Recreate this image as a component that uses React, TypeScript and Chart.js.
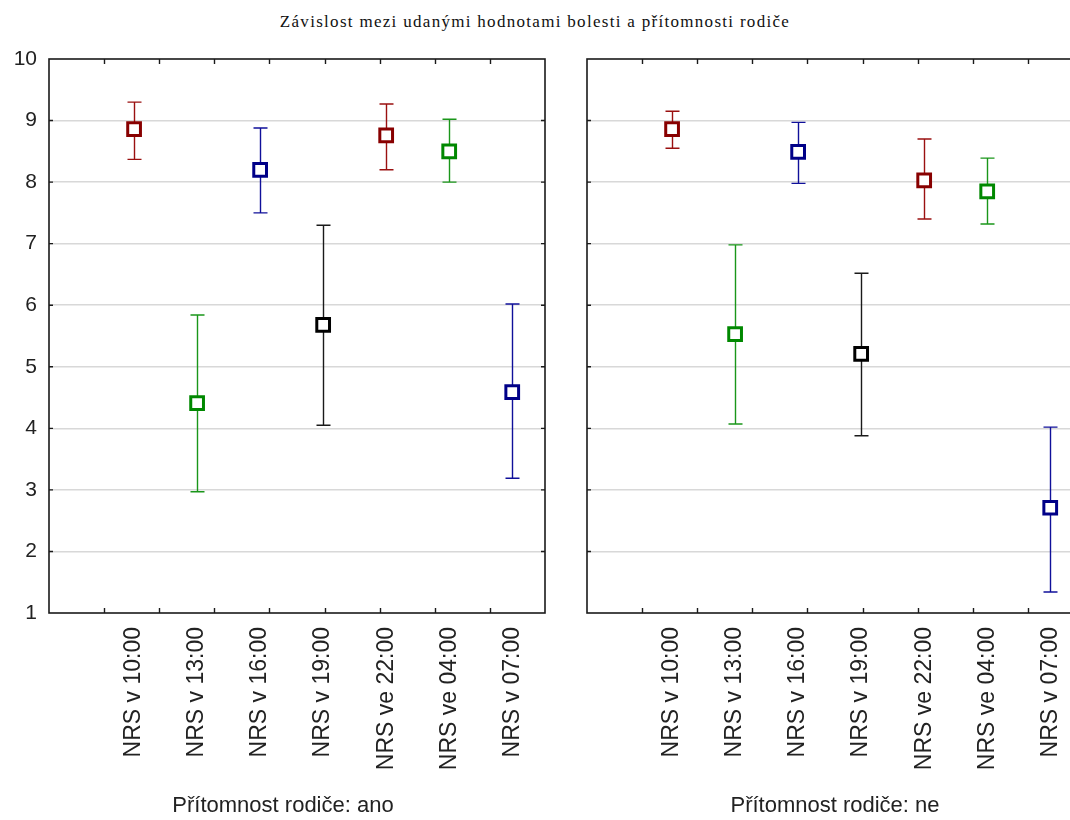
import React, { useEffect, useRef } from 'react';
import { Chart, registerables } from 'chart.js';

Chart.register(...registerables);

// ---- data ----
const categories = ['NRS v 10:00', 'NRS v 13:00', 'NRS v 16:00', 'NRS v 19:00', 'NRS ve 22:00', 'NRS ve 04:00', 'NRS v 07:00'];
const pointColors = ['#880000', '#008800', '#000088', '#000000', '#880000', '#008800', '#000088'];
const barColors = ['#9a1010', '#1a961a', '#10109a', '#1a1a1a', '#9a1010', '#1a961a', '#10109a'];

const anoMean = [8.86, 4.41, 8.2, 5.68, 8.76, 8.5, 4.59];
const anoUpper = [9.3, 5.84, 8.88, 7.3, 9.27, 9.02, 6.02];
const anoLower = [8.37, 2.97, 7.5, 4.05, 8.2, 8.0, 3.19];

const neMean = [8.86, 5.53, 8.49, 5.21, 8.03, 7.85, 2.71];
const neUpper = [9.15, 6.98, 8.97, 6.52, 8.7, 8.39, 4.02];
const neLower = [8.55, 4.07, 7.98, 3.88, 7.4, 7.32, 1.34];

const yMin = 1;
const yMax = 10;
const xMin = -0.35;
const xMax = 7.52;

const mainTitle = 'Závislost mezi udanými hodnotami bolesti a přítomnosti rodiče';
const panelTitles = ['Přítomnost rodiče: ano', 'Přítomnost rodiče: ne'];

const SANS = "'Liberation Sans', Arial, sans-serif";

const errorBarPlugin = {
  id: 'errorBars',
  beforeDatasetsDraw(chart: any) {
    const ctx = chart.ctx;
    const xs = chart.scales.x;
    const ys = chart.scales.y;
    const ds = chart.data.datasets[0];
    const upper: number[] = ds.errUpper;
    const lower: number[] = ds.errLower;
    ctx.save();
    ctx.lineWidth = 1.4;
    upper.forEach((u, i) => {
      const px = Math.round(xs.getPixelForValue(i + 1)) + 0.5;
      const pu = ys.getPixelForValue(u);
      const pl = ys.getPixelForValue(lower[i]);
      ctx.strokeStyle = barColors[i];
      ctx.beginPath();
      ctx.moveTo(px, pu);
      ctx.lineTo(px, pl);
      ctx.moveTo(px - 7, pu);
      ctx.lineTo(px + 7, pu);
      ctx.moveTo(px - 7, pl);
      ctx.lineTo(px + 7, pl);
      ctx.stroke();
    });
    ctx.restore();
  },
};

const framePlugin = {
  id: 'frame',
  afterDraw(chart: any, _args: any, opts: any) {
    const ctx = chart.ctx;
    const a = chart.chartArea;
    const ys = chart.scales.y;
    ctx.save();
    ctx.strokeStyle = '#1a1a1a';
    ctx.lineWidth = 1.6;
    ctx.strokeRect(a.left, a.top, a.right - a.left, a.bottom - a.top);
    ctx.lineWidth = 1.4;
    ctx.beginPath();
    for (let v = yMin + 1; v < yMax; v++) {
      const py = ys.getPixelForValue(v);
      ctx.moveTo(a.left, py);
      ctx.lineTo(a.left + 4, py);
      ctx.moveTo(a.right, py);
      ctx.lineTo(a.right - 4, py);
    }
    const w = a.right - a.left;
    for (let k = 1; k <= 8; k++) {
      const px = Math.round(a.left + (k * w) / 9) + 0.5;
      ctx.moveTo(px, a.top);
      ctx.lineTo(px, a.top + 5);
      ctx.moveTo(px, a.bottom);
      ctx.lineTo(px, a.bottom - 5);
    }
    ctx.stroke();
    // panel title
    ctx.fillStyle = '#222';
    ctx.font = `22px ${SANS}`;
    ctx.textAlign = 'center';
    ctx.textBaseline = 'middle';
    ctx.fillText(opts.text, chart.width / 2, 806);
    ctx.restore();
  },
};

function makeConfig(mean: number[], upper: number[], lower: number[], title: string, showY: boolean): any {
  return {
    type: 'scatter',
    data: {
      datasets: [
        {
          data: mean.map((m, i) => ({ x: i + 1, y: m })),
          errUpper: upper,
          errLower: lower,
          pointStyle: 'rect',
          pointRadius: 9,
          pointHoverRadius: 9,
          pointBorderWidth: 3,
          pointBackgroundColor: '#ffffff',
          pointBorderColor: pointColors,
          showLine: false,
        },
      ],
    },
    options: {
      responsive: false,
      animation: false,
      devicePixelRatio: 1,
      layout: { padding: { left: 0, right: 21, top: 59, bottom: 0 } },
      plugins: {
        legend: { display: false },
        tooltip: { enabled: false },
        title: { display: false },
        frame: { text: title },
      },
      scales: {
        x: {
          type: 'linear',
          min: xMin,
          max: xMax,
          grid: { display: false, drawTicks: false },
          border: { display: false },
          afterBuildTicks: (s: any) => {
            s.ticks = categories.map((_, i) => ({ value: i + 1 }));
          },
          afterFit: (s: any) => {
            s.height = 820 - 613;
          },
          ticks: {
            autoSkip: false,
            minRotation: 90,
            maxRotation: 90,
            padding: 14,
            color: '#222',
            font: { family: SANS, size: 23 },
            callback: (_v: any, i: number) => categories[i],
          },
        },
        y: {
          type: 'linear',
          min: yMin,
          max: yMax,
          grid: {
            drawTicks: false,
            lineWidth: 1.6,
            color: (c: any) =>
              c.tick && (c.tick.value === yMin || c.tick.value === yMax) ? 'rgba(0,0,0,0)' : '#d8d8d8',
          },
          border: { display: false },
          afterFit: (s: any) => {
            s.width = showY ? 49 : 21;
          },
          ticks: {
            display: showY,
            stepSize: 1,
            padding: 12,
            color: '#222',
            font: { family: SANS, size: 21 },
          },
        },
      },
    },
    plugins: [errorBarPlugin, framePlugin],
  };
}

function Panel(props: { mean: number[]; upper: number[]; lower: number[]; title: string; showY: boolean; left: number; width: number }) {
  const ref = useRef<HTMLCanvasElement>(null);
  useEffect(() => {
    if (!ref.current) return;
    const chart = new Chart(ref.current, makeConfig(props.mean, props.upper, props.lower, props.title, props.showY));
    return () => chart.destroy();
  }, []);
  return (
    <canvas
      ref={ref}
      width={props.width}
      height={820}
      style={{ position: 'absolute', left: props.left, top: 0, width: props.width, height: 820 }}
    />
  );
}

export default function App() {
  return (
    <div style={{ position: 'fixed', left: 0, top: 0, width: 1070, height: 820, overflow: 'hidden', background: '#fff' }}>
      <div
        style={{
          position: 'absolute',
          left: 0,
          top: 12,
          width: 1070,
          textAlign: 'center',
          fontFamily: "'Liberation Serif', 'Times New Roman', serif",
          fontSize: 17,
          letterSpacing: 1.3,
          color: '#111',
        }}
      >
        {mainTitle}
      </div>
      <Panel mean={anoMean} upper={anoUpper} lower={anoLower} title={panelTitles[0]} showY={true} left={0} width={566} />
      <Panel mean={neMean} upper={neUpper} lower={neLower} title={panelTitles[1]} showY={false} left={566} width={538} />
    </div>
  );
}
